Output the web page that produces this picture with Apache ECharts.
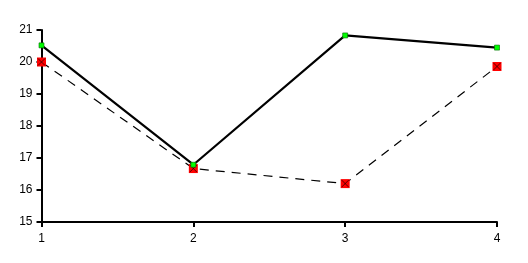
<!DOCTYPE html>
<html><head><meta charset="utf-8">
<script src="https://cdn.jsdelivr.net/npm/echarts@6/dist/echarts.min.js"></script>
<style>html,body{margin:0;padding:0;background:#fff}#c{width:528px;height:263px}</style>
</head><body><div id="c"></div>
<script>
const categories = ['1', '2', '3', '4'];
const seriesA = [20.52, 16.79, 20.83, 20.45];
const seriesB = [20.0, 16.67, 16.2, 19.86];
const yTicks = { min: 15, max: 21, interval: 1 };

const chart = echarts.init(document.getElementById('c'), null, { renderer: 'canvas' });
const font = { fontFamily: 'Liberation Sans, Arial, sans-serif', fontSize: 12, color: '#000' };
chart.setOption({
  animation: false,
  backgroundColor: '#fff',
  grid: { left: 41.5, right: 31, top: 30, bottom: 41, containLabel: false },
  xAxis: {
    type: 'category', data: categories, boundaryGap: false,
    axisLine: { lineStyle: { color: '#000', width: 2 } },
    axisTick: { show: true, length: 5, lineStyle: { color: '#000', width: 2 } },
    axisLabel: Object.assign({ margin: 11 }, font),
    splitLine: { show: false }
  },
  yAxis: {
    type: 'value', min: yTicks.min, max: yTicks.max, interval: yTicks.interval,
    axisLine: { show: true, lineStyle: { color: '#000', width: 2 } },
    axisTick: { show: true, length: 5, lineStyle: { color: '#000', width: 2 } },
    axisLabel: Object.assign({ margin: 9 }, font),
    splitLine: { show: false }
  },
  series: [
    {
      type: 'line', data: seriesB, z: 2,
      lineStyle: { color: '#000', width: 1.2, type: [9, 7] },
      symbol: 'rect', symbolSize: 9,
      itemStyle: { color: '#ff0000', borderWidth: 0 }
    },
    {
      type: 'scatter', data: seriesB, z: 3,
      symbol: 'path://M0 0L10 10M10 0L0 10', symbolSize: 7,
      itemStyle: { color: 'none', borderColor: '#000', borderWidth: 0.8 }
    },
    {
      type: 'line', data: seriesA, z: 4,
      lineStyle: { color: '#000', width: 2.2 },
      symbol: 'rect', symbolSize: 5,
      itemStyle: { color: '#00ff00', borderColor: '#006600', borderWidth: 0.6 }
    }
  ]
});
</script></body></html>
